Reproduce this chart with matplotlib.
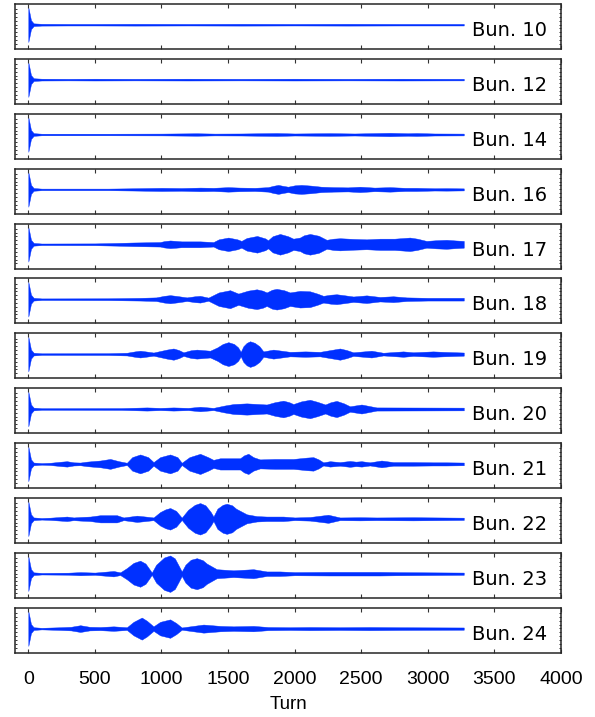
import matplotlib
matplotlib.use("Agg")
import matplotlib.pyplot as plt
import numpy as np

plt.rcParams['font.family'] = ['Liberation Sans', 'DejaVu Sans']

# start-up kick common to every bunch (turn, half amplitude)
spike_turn = [0, 8, 20, 40]
spike_amp = [0.77, 0.55, 0.2, 0.06]

bunch_names = ["Bun. 10", "Bun. 12", "Bun. 14", "Bun. 16", "Bun. 17", "Bun. 18",
               "Bun. 19", "Bun. 20", "Bun. 21", "Bun. 22", "Bun. 23", "Bun. 24"]

turn_10 = [100, 300, 500, 800, 1200, 1600, 2000, 2400, 2800, 3200, 3270]
env_10 = [0.04, 0.035, 0.035, 0.04, 0.035, 0.04, 0.035, 0.04, 0.035, 0.035, 0.035]

turn_12 = [100, 300, 500, 800, 1200, 1600, 2000, 2400, 2800, 3200, 3270]
env_12 = [0.04, 0.035, 0.04, 0.035, 0.04, 0.035, 0.04, 0.035, 0.04, 0.035, 0.035]

turn_14 = [100, 600, 1000, 1265, 1400, 1600, 1865, 2000, 2265, 2450, 2715, 2850, 2915, 3050, 3270]
env_14 = [0.035, 0.035, 0.04, 0.055, 0.04, 0.045, 0.065, 0.045, 0.06, 0.045, 0.075, 0.055, 0.065, 0.045, 0.04]

turn_16 = [100, 600, 790, 1000, 1150, 1290, 1390, 1500, 1590, 1700, 1800, 1840, 1877, 1910, 1950,
           2000, 2050, 2120, 2200, 2290, 2400, 2490, 2600, 2715, 2830, 2915, 3050, 3140, 3270]
env_16 = [0.035, 0.035, 0.05, 0.07, 0.06, 0.08, 0.07, 0.1, 0.08, 0.07, 0.1, 0.16, 0.2, 0.16, 0.12,
          0.18, 0.2, 0.17, 0.12, 0.1, 0.09, 0.12, 0.08, 0.1, 0.07, 0.07, 0.05, 0.055, 0.045]

turn_17 = [100, 500, 665, 790, 990, 1020, 1065, 1110, 1150, 1290, 1390, 1430, 1502, 1570, 1600,
           1640, 1718, 1780, 1800, 1835, 1890, 1950, 1990, 2040, 2070, 2115, 2180, 2240, 2290,
           2340, 2440, 2540, 2640, 2750, 2820, 2865, 2920, 2990, 3060, 3140, 3210, 3270]
env_17 = [0.035, 0.04, 0.06, 0.08, 0.1, 0.14, 0.17, 0.15, 0.13, 0.13, 0.1, 0.22, 0.3, 0.22, 0.15,
          0.28, 0.37, 0.26, 0.18, 0.36, 0.46, 0.36, 0.25, 0.3, 0.4, 0.46, 0.38, 0.2, 0.25,
          0.27, 0.24, 0.22, 0.25, 0.25, 0.28, 0.3, 0.25, 0.15, 0.18, 0.2, 0.17, 0.15]

turn_18 = [100, 600, 840, 960, 1020, 1065, 1120, 1190, 1250, 1290, 1352, 1430, 1515, 1577, 1650,
           1715, 1760, 1790, 1830, 1865, 1920, 1965, 2040, 2115, 2170, 2215, 2270, 2315, 2380,
           2440, 2540, 2640, 2740, 2840, 3000, 3270]
env_18 = [0.035, 0.04, 0.06, 0.08, 0.15, 0.18, 0.14, 0.08, 0.13, 0.15, 0.07, 0.3, 0.4, 0.25, 0.38,
          0.44, 0.38, 0.3, 0.42, 0.46, 0.4, 0.3, 0.37, 0.35, 0.25, 0.15, 0.2, 0.22, 0.17,
          0.12, 0.17, 0.1, 0.13, 0.08, 0.06, 0.06]

turn_19 = [100, 600, 740, 800, 840, 880, 940, 1040, 1090, 1130, 1165, 1220, 1265, 1365, 1420,
           1460, 1502, 1545, 1575, 1595, 1615, 1640, 1665, 1700, 1735, 1765, 1840, 1965, 2080,
           2190, 2290, 2340, 2390, 2440, 2577, 2665, 2815, 2890, 3040, 3115, 3270]
env_19 = [0.035, 0.04, 0.06, 0.12, 0.15, 0.12, 0.07, 0.2, 0.25, 0.18, 0.08, 0.17, 0.2, 0.15, 0.3,
          0.45, 0.53, 0.45, 0.3, 0.1, 0.35, 0.5, 0.57, 0.5, 0.35, 0.12, 0.2, 0.1, 0.12,
          0.1, 0.2, 0.25, 0.18, 0.08, 0.15, 0.06, 0.12, 0.08, 0.12, 0.1, 0.07]

turn_20 = [100, 700, 890, 990, 1090, 1200, 1290, 1390, 1470, 1540, 1640, 1790, 1850, 1915, 1960,
           1990, 2050, 2115, 2170, 2230, 2270, 2315, 2370, 2415, 2502, 2615, 3270]
env_20 = [0.035, 0.04, 0.07, 0.05, 0.07, 0.05, 0.1, 0.05, 0.15, 0.22, 0.25, 0.2, 0.3, 0.37, 0.3,
          0.22, 0.34, 0.41, 0.32, 0.2, 0.3, 0.36, 0.25, 0.12, 0.2, 0.07, 0.06]

turn_21 = [100, 165, 250, 290, 340, 390, 440, 477, 540, 615, 680, 740, 780, 840, 900, 940, 990,
           1065, 1120, 1152, 1210, 1290, 1350, 1390, 1440, 1590, 1620, 1652, 1690, 1740, 1850,
           1990, 2090, 2140, 2180, 2215, 2265, 2340, 2415, 2460, 2502, 2565, 2652, 2740, 2890,
           3040, 3140, 3270]
env_21 = [0.035, 0.05, 0.1, 0.12, 0.07, 0.06, 0.1, 0.12, 0.15, 0.22, 0.12, 0.05, 0.3, 0.42, 0.3,
          0.08, 0.3, 0.42, 0.3, 0.05, 0.3, 0.45, 0.3, 0.18, 0.25, 0.25, 0.38, 0.45, 0.3, 0.2,
          0.22, 0.22, 0.28, 0.3, 0.2, 0.07, 0.12, 0.08, 0.13, 0.1, 0.12, 0.07, 0.15, 0.08,
          0.08, 0.07, 0.07, 0.06]

turn_22 = [100, 165, 290, 340, 390, 465, 540, 665, 715, 815, 880, 940, 990, 1030, 1065, 1110,
           1152, 1200, 1250, 1290, 1330, 1370, 1390, 1420, 1460, 1490, 1530, 1560, 1640, 1715,
           1790, 1915, 2000, 2115, 2252, 2340, 2490, 2615, 2890, 3270]
env_22 = [0.035, 0.05, 0.1, 0.06, 0.08, 0.1, 0.16, 0.16, 0.06, 0.14, 0.1, 0.06, 0.3, 0.42, 0.48,
          0.35, 0.05, 0.4, 0.62, 0.7, 0.6, 0.3, 0.1, 0.45, 0.62, 0.67, 0.6, 0.45, 0.2, 0.12,
          0.1, 0.1, 0.06, 0.08, 0.18, 0.06, 0.07, 0.06, 0.07, 0.05]

turn_23 = [100, 300, 390, 500, 640, 690, 740, 790, 840, 880, 910, 927, 960, 1020, 1065, 1100,
           1130, 1152, 1180, 1220, 1265, 1310, 1340, 1415, 1540, 1690, 1790, 1890, 2000, 2265,
           2452, 2640, 2765, 3270]
env_23 = [0.035, 0.045, 0.07, 0.05, 0.12, 0.06, 0.25, 0.48, 0.58, 0.45, 0.2, 0.05, 0.4, 0.72,
          0.81, 0.68, 0.35, 0.1, 0.4, 0.62, 0.69, 0.6, 0.45, 0.2, 0.15, 0.2, 0.1, 0.1, 0.07,
          0.08, 0.08, 0.08, 0.07, 0.05]

turn_24 = [100, 240, 320, 390, 460, 540, 640, 740, 790, 852, 890, 940, 990, 1065, 1110, 1152,
           1240, 1315, 1440, 1540, 1690, 1800, 1965, 2115, 2340, 2565, 2790, 3270]
env_24 = [0.035, 0.06, 0.08, 0.15, 0.08, 0.07, 0.1, 0.06, 0.3, 0.49, 0.35, 0.1, 0.3, 0.41, 0.25,
          0.05, 0.12, 0.18, 0.12, 0.1, 0.12, 0.07, 0.06, 0.07, 0.06, 0.07, 0.06, 0.05]

turns = [turn_10, turn_12, turn_14, turn_16, turn_17, turn_18,
         turn_19, turn_20, turn_21, turn_22, turn_23, turn_24]
envs = [env_10, env_12, env_14, env_16, env_17, env_18,
        env_19, env_20, env_21, env_22, env_23, env_24]

xticks = [0, 500, 1000, 1500, 2000, 2500, 3000, 3500, 4000]
baseline = 0.08

W, H = 595, 717
fig = plt.figure(figsize=(W / 100, H / 100), dpi=100)

blue = '#0030ff'
left, width = 15 / W, 546 / W
panel_h, pitch, top0 = 45, 54.9, 4

for k, name in enumerate(bunch_names):
    top = top0 + k * pitch
    ax = fig.add_axes([left, 1 - (top + panel_h) / H, width, panel_h / H])
    t = np.array(spike_turn + turns[k], dtype=float)
    a = np.array(spike_amp + envs[k], dtype=float)
    ax.fill_between(t, baseline - a, baseline + a, color=blue, linewidth=0.3, edgecolor=blue)
    ax.text(3330, -0.42, name, fontsize=14, family='DejaVu Sans', ha='left', va='baseline')

    ax.set_xlim(-100, 4000)
    ax.set_ylim(-1, 1)
    ax.set_xticks(xticks)
    ax.set_yticks(np.linspace(-0.77, 0.77, 10))
    ax.tick_params(axis='x', direction='in', length=3, width=0.8, top=True, bottom=True,
                   color='#333333', labelsize=14, pad=13)
    ax.tick_params(axis='y', direction='in', length=1.5, width=0.7, left=True, right=True,
                   color='#333333', labelleft=False)
    for sp in ax.spines.values():
        sp.set_linewidth(1.1)
        sp.set_color('#262626')
    if k < len(bunch_names) - 1:
        ax.set_xticklabels([])
    else:
        ax.set_xlabel('Turn', fontsize=13.5, labelpad=6)

fig.savefig('out.png', dpi=100)
